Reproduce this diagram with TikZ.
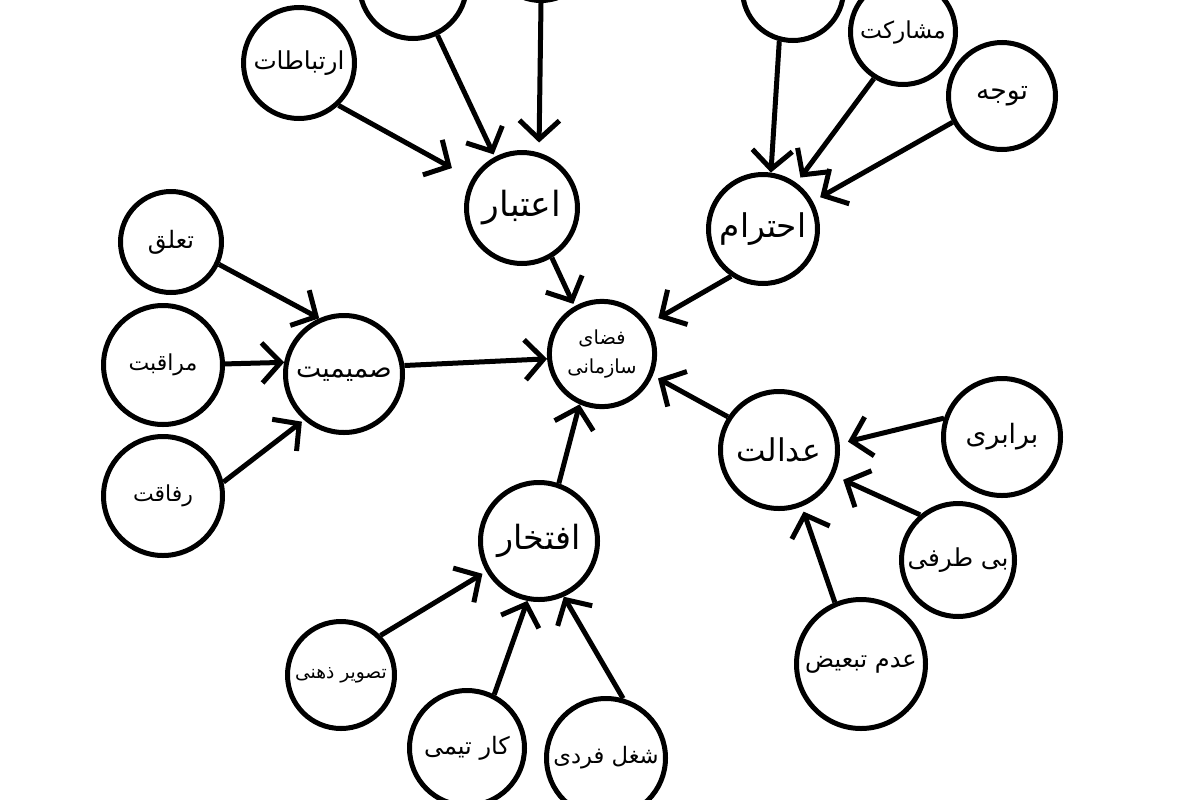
\documentclass[tikz,border=0pt]{standalone}
\usepackage{fontspec}
\newfontfamily\fa[Script=Arabic]{DejaVu Sans}
\TeXXeTstate=1
\usetikzlibrary{arrows.meta}
\newcommand{\fs}[1]{\fontsize{#1}{#1}\selectfont\fa}
\tikzset{
  circ/.style={circle, draw=black, line width=3.75pt, minimum size={(#1)*1.5pt-3.75pt}, inner sep=0pt, fill=white},
  arr/.style={line width=3.75pt, -{Straight Barb[length=14pt,width=30pt]}},
}
\begin{document}
\begin{tikzpicture}[x=0.75pt,y=-0.75pt]
\useasboundingbox (0,0) rectangle (1200,800);
\fill[white] (0,0) rectangle (1200,800);
\clip (0,0) rectangle (1200,800);
% hubs
\node[circ=54] (fazaa) at (602,354) {\parbox{70pt}{\centering\fontsize{14.5}{22}\selectfont\fa\beginR فضای\endR\\\beginR سازمانی\endR}};
\node[circ=58] (etebar) at (522,208) {\fs{26}\beginR اعتبار\endR};
\node[circ=57] (ehteram) at (763,229) {\fs{24.5}\beginR احترام\endR};
\node[circ=61] (samimiat) at (344,374) {\fs{20}\beginR صمیمیت\endR};
\node[circ=61] (edalat) at (779,450) {\fs{23.5}\beginR عدالت\endR};
\node[circ=61] (eftekhar) at (539,541) {\fs{25}\beginR افتخار\endR};
% leaves
\node[circ=58] (ertebatat) at (299,63) {\fs{18.5}\beginR ارتباطات\endR};
\node[circ=56] (topleft) at (413,-15) {};
\node[circ=53] (topmid) at (541,-50) {};
\node[circ=53] (topright) at (793,-10) {};
\node[circ=55] (mosharekat) at (903,32) {\fs{17.5}\beginR مشارکت\endR};
\node[circ=56] (tavajoh) at (1002,96) {\fs{20}\beginR توجه\endR};
\node[circ=53] (taaloq) at (171,242) {\fs{18}\beginR تعلق\endR};
\node[circ=62] (moraqebat) at (163,365) {\fs{16.5}\beginR مراقبت\endR};
\node[circ=62] (refaqat) at (163,496) {\fs{16.5}\beginR رفاقت\endR};
\node[circ=61] (barabari) at (1002,437) {\fs{20}\beginR برابری\endR};
\node[circ=59] (bitarafi) at (958,560) {\fs{18.5}\beginR بی طرفی\endR};
\node[circ=67] (adam) at (861,664) {\fs{18}\beginR عدم تبعیض\endR};
\node[circ=56] (tasvir) at (341,675) {\fs{14}\beginR تصویر ذهنی\endR};
\node[circ=60] (kar) at (467,748) {\fs{18}\beginR کار تیمی\endR};
\node[circ=62] (shoghl) at (606,758) {\fs{17}\beginR شغل فردی\endR};
% arrows
\draw[arr, shorten >=17pt] (ertebatat.-47) -- (etebar.150);
\draw[arr, shorten >=2pt] (topleft.-64.7) -- (etebar.118.7);
\draw[arr, shorten >=7.5pt] (topmid.-90) -- (etebar.73.7);
\draw[arr] (topright.-105) -- (ehteram.82);
\draw[arr, shorten >=5pt] (mosharekat.-122.9) -- (ehteram.54.6);
\draw[arr, shorten >=6.3pt] (tavajoh.-152.6) -- (ehteram.29.3);
\draw[arr, shorten >=2pt] (etebar.-59) -- (fazaa.120.6);
\draw[arr, shorten >=8.8pt] (ehteram.-124.5) -- (fazaa.33.2);
\draw[arr] (samimiat.8.4) -- (fazaa.-175.8);
\draw[arr, shorten >=4.5pt] (edalat.147.9) -- (fazaa.-23.6);
\draw[arr] (eftekhar.71.6) -- (fazaa.-114.2);
\draw[arr] (taaloq.-25.1) -- (samimiat.114.8);
\draw[arr] (moraqebat.1.8) -- (samimiat.169);
\draw[arr, shorten >=2pt] (refaqat.13.1) -- (samimiat.-131.2);
\draw[arr, shorten >=6.4pt] (barabari.162.1) -- (edalat.6.6);
\draw[arr, shorten >=7.3pt] (bitarafi.130.4) -- (edalat.-25.1);
\draw[arr, shorten >=4pt] (adam.113.1) -- (edalat.-68.8);
\draw[arr, shorten >=3.3pt] (tasvir.45.7) -- (eftekhar.-150.7);
\draw[arr] (kar.63) -- (eftekhar.-101.1);
\draw[arr] (shoghl.74.6) -- (eftekhar.-66.1);
\end{tikzpicture}
\end{document}
